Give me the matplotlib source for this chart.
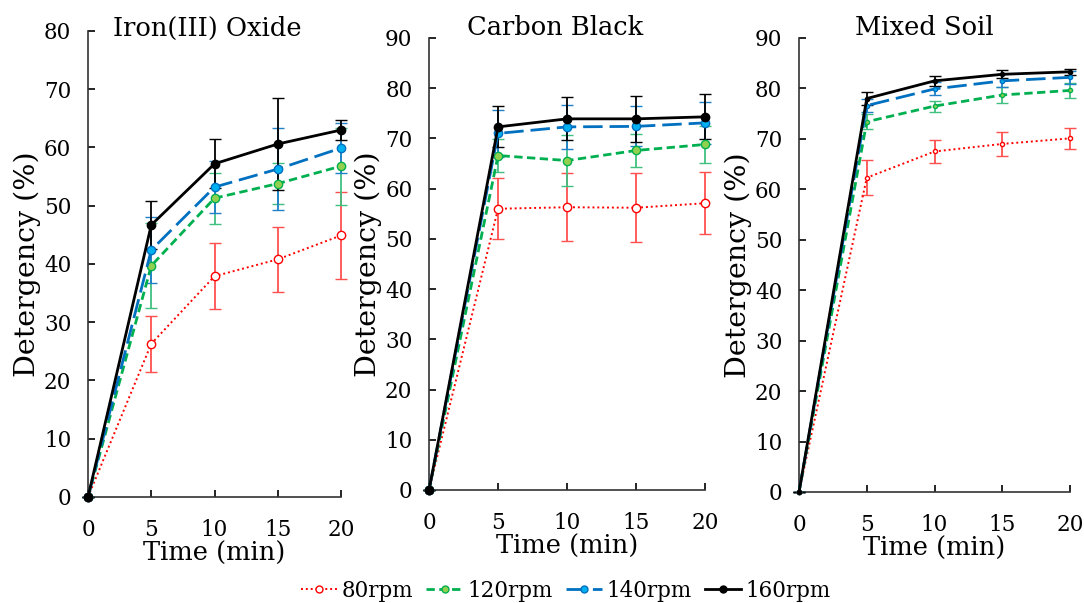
import matplotlib
matplotlib.use("Agg")
import matplotlib.pyplot as plt
from matplotlib.lines import Line2D
import numpy as np

plt.rcParams["font.family"] = ["DejaVu Serif"]

time_min = [0, 5, 10, 15, 20]
series_names = ["80rpm", "120rpm", "140rpm", "160rpm"]

# Iron(III) Oxide
iron_mean = {
    "80rpm": [0, 26.3, 37.9, 40.8, 44.9],
    "120rpm": [0, 39.7, 51.3, 53.8, 56.8],
    "140rpm": [0, 42.4, 53.2, 56.3, 59.9],
    "160rpm": [0, 46.7, 57.2, 60.6, 63.0],
}
iron_err = {
    "80rpm": [0, 4.8, 5.7, 5.6, 7.5],
    "120rpm": [0, 7.3, 4.4, 3.5, 6.6],
    "140rpm": [0, 5.7, 4.4, 7.1, 4.3],
    "160rpm": [0, 4.2, 4.2, 7.9, 1.7],
}

# Carbon Black
carbon_mean = {
    "80rpm": [0, 56.0, 56.3, 56.2, 57.1],
    "120rpm": [0, 66.6, 65.6, 67.6, 68.8],
    "140rpm": [0, 71.0, 72.3, 72.4, 73.1],
    "160rpm": [0, 72.3, 73.9, 73.9, 74.3],
}
carbon_err = {
    "80rpm": [0, 6.1, 6.8, 6.9, 6.2],
    "120rpm": [0, 3.2, 5.0, 3.3, 3.6],
    "140rpm": [0, 4.6, 4.4, 4.0, 4.2],
    "160rpm": [0, 4.1, 4.3, 4.6, 4.5],
}

# Mixed Soil
soil_mean = {
    "80rpm": [0, 62.3, 67.5, 69.0, 70.1],
    "120rpm": [0, 73.4, 76.5, 78.7, 79.6],
    "140rpm": [0, 76.6, 79.9, 81.5, 82.2],
    "160rpm": [0, 78.0, 81.5, 82.8, 83.3],
}
soil_err = {
    "80rpm": [0, 3.5, 2.3, 2.3, 2.1],
    "120rpm": [0, 1.5, 1.1, 1.5, 1.4],
    "140rpm": [0, 1.3, 1.3, 1.3, 1.3],
    "160rpm": [0, 1.3, 1.0, 0.8, 0.6],
}

panels = [
    ("Iron(III) Oxide", iron_mean, iron_err, 80, [0.0812, 0.1758, 0.2334, 0.7728], 6, 0.191),
    ("Carbon Black", carbon_mean, carbon_err, 90, [0.3958, 0.1874, 0.2546, 0.7496], 6, 0.512),
    ("Mixed Soil", soil_mean, soil_err, 90, [0.7371, 0.1841, 0.2500, 0.7529], 3, 0.853),
]

styles = {
    "80rpm": dict(color="#ff0000", ls=(0, (1, 1.5)), mfc="white", ecol="#ff5050", lw=1.4),
    "120rpm": dict(color="#00b050", ls=(0, (3, 1.6)), mfc="#92d050", ecol="#40c080", lw=2.0),
    "140rpm": dict(color="#0070c0", ls=(0, (7, 2.5)), mfc="#00b0f0", ecol="#2080c8", lw=2.0),
    "160rpm": dict(color="black", ls="-", mfc="black", ecol="black", lw=2.0),
}

fig = plt.figure(figsize=(10.84, 6.03), dpi=100)

for title, means, errs, ymax, pos, ms, title_x in panels:
    ax = fig.add_axes(pos)
    for name in series_names:
        st = styles[name]
        ax.errorbar(time_min, means[name], yerr=errs[name], color=st["color"],
                    ls=st["ls"], lw=st["lw"], marker="o", ms=ms, mfc=st["mfc"],
                    mec=st["color"], mew=1.0, ecolor=st["ecol"], elinewidth=1.3,
                    capsize=4, capthick=1.3, clip_on=False, zorder=3)
    ax.set_xlim(0, 20)
    ax.set_ylim(0, ymax)
    ax.set_xticks([0, 5, 10, 15, 20])
    ax.set_yticks(np.arange(0, ymax + 1, 10))
    ax.spines["top"].set_visible(False)
    ax.spines["right"].set_visible(False)
    for sp in ("left", "bottom"):
        ax.spines[sp].set_linewidth(1.2)
        ax.spines[sp].set_color("#333333")
    ax.tick_params(direction="in", length=5, width=1.2, labelsize=15.5)
    ax.tick_params(axis="x", pad=16)
    ax.tick_params(axis="y", pad=12)
    ax.set_xlabel("Time (min)", fontsize=18.5, labelpad=0)
    ax.set_ylabel("Detergency (%)", fontsize=20.5, labelpad=2)
    fig.text(title_x, 0.9536, title, ha="center", va="center", fontsize=18.5)

handles = [
    Line2D([], [], color=styles[n]["color"], ls=styles[n]["ls"], lw=styles[n]["lw"],
           marker="o", ms=5, mfc=styles[n]["mfc"], mec=styles[n]["color"])
    for n in series_names
]
fig.legend(handles, series_names, loc="center", bbox_to_anchor=(0.522, 0.02),
           ncol=4, frameon=False, fontsize=15.5, handlelength=1.7, columnspacing=0.6,
           handletextpad=0.2)

fig.savefig("out.png", dpi=100)
